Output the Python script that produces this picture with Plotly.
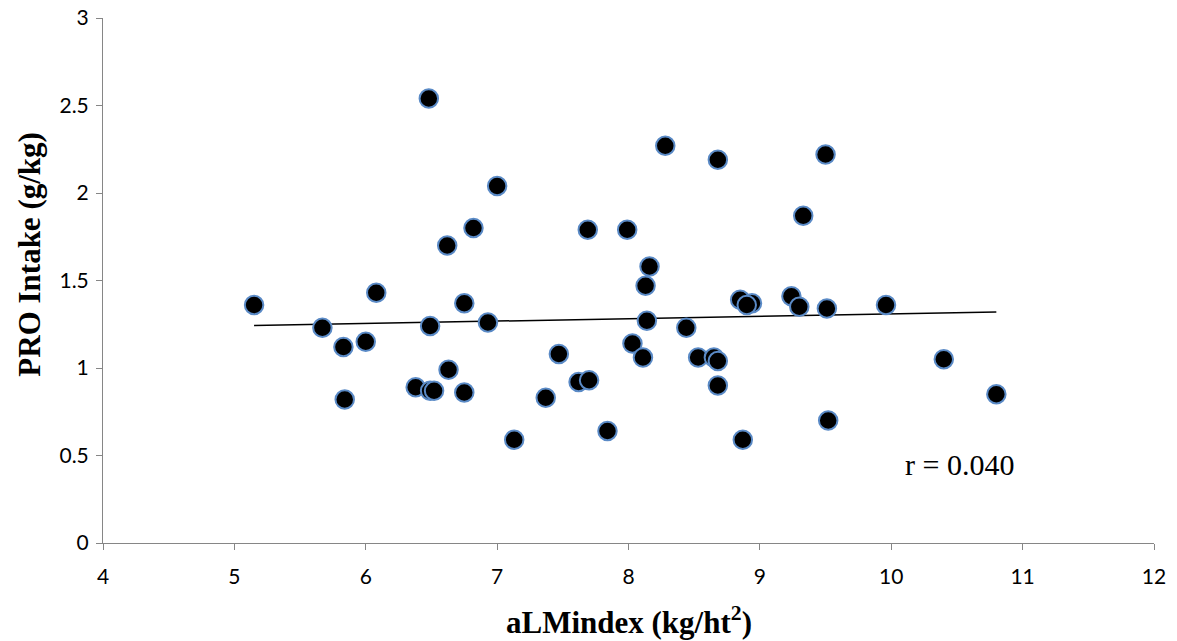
import numpy as np
import plotly.graph_objects as go

almindex = [5.15, 5.67, 5.83, 5.84, 6.00, 6.08, 6.38, 6.48, 6.49, 6.49, 6.52,
            6.62, 6.63, 6.75, 6.75, 6.82, 6.93, 7.00, 7.13, 7.37, 7.47, 7.62,
            7.70, 7.69, 7.84, 7.99, 8.03, 8.11, 8.13, 8.14, 8.16, 8.28, 8.44,
            8.53, 8.65, 8.68, 8.68, 8.68, 8.87, 8.85, 8.94, 8.90, 9.24, 9.30,
            9.33, 9.50, 9.51, 9.52, 9.96, 10.40, 10.80]
pro_intake = [1.36, 1.23, 1.12, 0.82, 1.15, 1.43, 0.89, 2.54, 1.24, 0.87, 0.87,
              1.70, 0.99, 1.37, 0.86, 1.80, 1.26, 2.04, 0.59, 0.83, 1.08, 0.92,
              0.93, 1.79, 0.64, 1.79, 1.14, 1.06, 1.47, 1.27, 1.58, 2.27, 1.23,
              1.06, 1.06, 1.04, 0.90, 2.19, 0.59, 1.39, 1.37, 1.36, 1.41, 1.35,
              1.87, 2.22, 1.34, 0.70, 1.36, 1.05, 0.85]

r_label = "r = 0.040"
x_title = "<b>aLMindex (kg/ht<sup>2</sup>)</b>"
y_title = "<b>PRO Intake (g/kg)</b>"

slope, intercept = np.polyfit(almindex, pro_intake, 1)
trend_x = [min(almindex), max(almindex)]
trend_y = [slope * v + intercept for v in trend_x]

fig = go.Figure()
fig.add_trace(go.Scatter(
    x=trend_x, y=trend_y, mode="lines",
    line=dict(color="black", width=1.5), hoverinfo="skip", showlegend=False))
fig.add_trace(go.Scatter(
    x=almindex, y=pro_intake, mode="markers",
    marker=dict(size=18.5, color="black", line=dict(color="#5A8AC6", width=2)),
    showlegend=False))

fig.add_annotation(x=10.52, y=0.446, xref="x", yref="y", text=r_label,
                   showarrow=False,
                   font=dict(family="Liberation Serif", size=30, color="black"))

title_font = dict(family="Liberation Serif", size=31, color="black")
fig.add_annotation(x=0.5, y=-0.1467, xref="paper", yref="paper", text=x_title,
                   showarrow=False, xanchor="center", yanchor="middle",
                   font=title_font)
fig.add_annotation(x=-0.0695, y=0.551, xref="paper", yref="paper", text=y_title,
                   showarrow=False, xanchor="center", yanchor="middle",
                   textangle=-90, font=title_font)

axis_common = dict(
    showline=True, linecolor="#868686", linewidth=1,
    ticks="outside", ticklen=6, tickcolor="#868686", tickwidth=1,
    showgrid=False, zeroline=False, automargin=False,
    tickfont=dict(family="Lato", size=21, color="black"),
)

fig.update_xaxes(range=[4, 12], dtick=1, tick0=4, ticklabelstandoff=9,
                 **axis_common)
fig.update_yaxes(range=[0, 3], dtick=0.5, tick0=0, ticklabelstandoff=3,
                 **axis_common)

fig.update_layout(
    width=1177, height=641,
    margin=dict(l=103, r=23, t=18, b=98),
    plot_bgcolor="white", paper_bgcolor="white",
)

fig.write_html("out.html")
